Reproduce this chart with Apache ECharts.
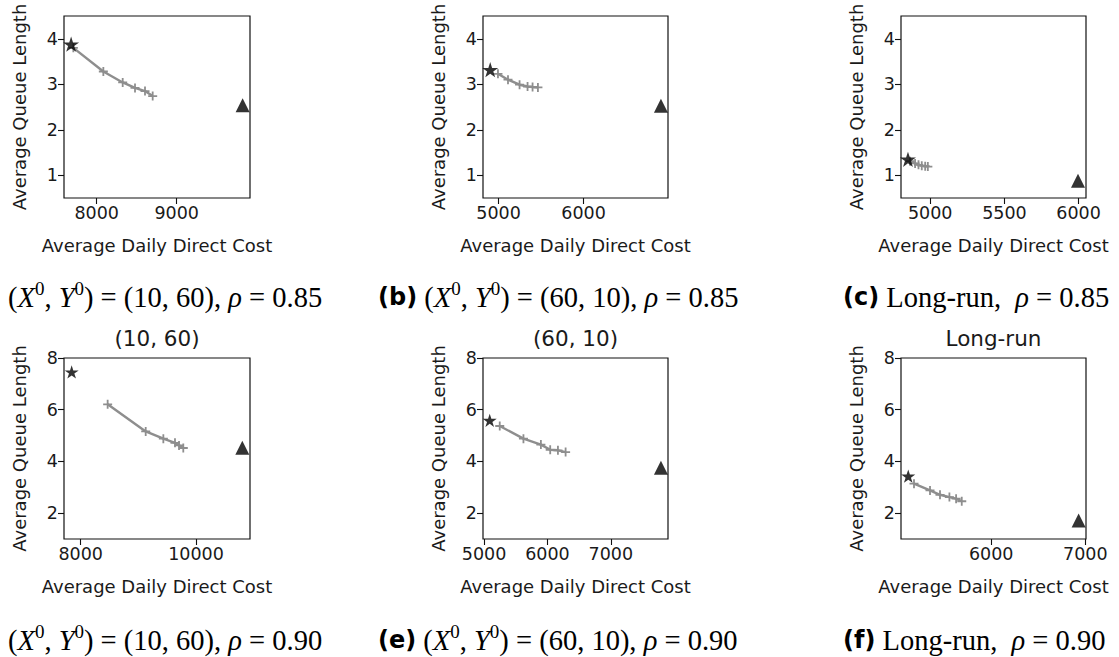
<!DOCTYPE html>
<html><head><meta charset="utf-8">
<script src="https://cdn.jsdelivr.net/npm/echarts@6/dist/echarts.min.js"></script>
<style>html,body{margin:0;padding:0;background:#fff}#c{width:1119px;height:657px}</style>
</head><body><div id="c"></div>
<script>
// ---------------- data ----------------
const xAxisTitle = 'Average Daily Direct Cost';
const yAxisTitle = 'Average Queue Length';
const panelTitles = ['', '', '', '(10, 60)', '(60, 10)', 'Long-run'];

// (a) (10,60), rho=0.85
const pathCostA = [7708, 8083, 8325, 8479, 8604, 8700];
const pathQueueA = [3.80, 3.28, 3.04, 2.92, 2.85, 2.74];
const starA = [7680, 3.88];
const triangleA = [9825, 2.54];
// (b) (60,10), rho=0.85
const pathCostB = [4993, 5111, 5247, 5341, 5400, 5463];
const pathQueueB = [3.23, 3.10, 2.99, 2.95, 2.94, 2.93];
const starB = [4902, 3.32];
const triangleB = [6910, 2.53];
// (c) Long-run, rho=0.85
const pathCostC = [4864, 4898, 4921, 4943, 4966, 4984];
const pathQueueC = [1.31, 1.26, 1.23, 1.21, 1.20, 1.19];
const starC = [4850, 1.35];
const triangleC = [5996, 0.88];
// (d) (10,60), rho=0.90
const pathCostD = [8468, 9128, 9434, 9636, 9706, 9780];
const pathQueueD = [6.21, 5.16, 4.88, 4.72, 4.62, 4.52];
const starD = [7844, 7.46];
const triangleD = [10804, 4.53];
// (e) (60,10), rho=0.90
const pathCostE = [5248, 5622, 5897, 6044, 6166, 6287];
const pathQueueE = [5.37, 4.88, 4.65, 4.45, 4.43, 4.36];
const starE = [5090, 5.59];
const triangleE = [7791, 3.76];
// (f) Long-run, rho=0.90
const pathCostF = [5181, 5351, 5457, 5557, 5628, 5688];
const pathQueueF = [3.14, 2.88, 2.71, 2.62, 2.56, 2.46];
const starF = [5120, 3.43];
const triangleF = [6929, 1.72];

// tick labels
const xTicksA = [8000, 9000];
const xTicksB = [5000, 6000];
const xTicksC = [5000, 5500, 6000];
const xTicksD = [8000, 10000];
const xTicksE = [5000, 6000, 7000];
const xTicksF = [6000, 7000];
const yTicksTop = [1, 2, 3, 4];
const yTicksBottom = [2, 4, 6, 8];

// captions
const captionLabels = ['', '(b)', '(c)', '', '(e)', '(f)'];
const captionPairs = ['(10, 60)', '(60, 10)', null];
const rhoValues = ['0.85', '0.90'];

// ---------------- layout ----------------
const colLeft = [64, 483, 901];
const colWidth = [186, 185, 185];
const rowTop = [16, 358];
const rowHeight = [182, 181];
const xRanges = [[7591, 9917], [4817, 6993], [4803, 6050], [7711, 10937], [4984, 7902], [5043, 7007]];
const yRanges = [[0.5, 4.5], [1, 8]];
const captionX = [8, 378, 843];
const captionY = [297, 640];

const paths = [[pathCostA, pathQueueA], [pathCostB, pathQueueB], [pathCostC, pathQueueC],
               [pathCostD, pathQueueD], [pathCostE, pathQueueE], [pathCostF, pathQueueF]];
const stars = [starA, starB, starC, starD, starE, starF];
const triangles = [triangleA, triangleB, triangleC, triangleD, triangleE, triangleF];
const xTicks = [xTicksA, xTicksB, xTicksC, xTicksD, xTicksE, xTicksF];
const yTicks = [yTicksTop, yTicksBottom];

const plusPath = 'path://M4,0H6V4H10V6H6V10H4V6H0V4H4Z';
const starPath = 'path://M100,0L122.45,69.1L195.11,69.1L136.33,111.8L158.78,180.9L100,138.2L41.22,180.9L63.67,111.8L4.89,69.1L77.55,69.1Z';

const TXT = '#1a1a1a';
const SANS = 'DejaVu Sans';
const grids = [], xAxes = [], yAxes = [], series = [], graphics = [];

for (let i = 0; i < 6; i++) {
  const row = Math.floor(i / 3), col = i % 3;
  grids.push({left: colLeft[col], top: rowTop[row], width: colWidth[col], height: rowHeight[row],
    show: true, borderColor: '#111', borderWidth: 1.2, backgroundColor: '#fff', containLabel: false});
  xAxes.push({type: 'value', gridIndex: i, min: xRanges[i][0], max: xRanges[i][1],
    axisLine: {show: false}, splitLine: {show: false},
    axisTick: {show: true, length: 6, lineStyle: {color: '#111', width: 1.1}, customValues: xTicks[i]},
    axisLabel: {customValues: xTicks[i], fontSize: 17.5, fontFamily: SANS, color: TXT, margin: 6,
      formatter: v => String(v)},
    name: xAxisTitle, nameLocation: 'middle', nameGap: 38.5,
    nameTextStyle: {fontSize: 18, fontFamily: SANS, color: TXT}});
  yAxes.push({type: 'value', gridIndex: i, min: yRanges[row][0], max: yRanges[row][1],
    axisLine: {show: false}, splitLine: {show: false},
    axisTick: {show: true, length: 6, lineStyle: {color: '#111', width: 1.1}, customValues: yTicks[row]},
    axisLabel: {customValues: yTicks[row], fontSize: 17.5, fontFamily: SANS, color: TXT, margin: 6,
      formatter: v => String(v)},
    name: yAxisTitle, nameLocation: 'middle', nameGap: 36,
    nameTextStyle: {fontSize: 18, fontFamily: SANS, color: TXT}});
  const [cost, queue] = paths[i];
  series.push({type: 'line', xAxisIndex: i, yAxisIndex: i, data: cost.map((c, k) => [c, queue[k]]),
    symbol: plusPath, symbolSize: 9, showSymbol: true, clip: false,
    lineStyle: {color: '#8e8e8e', width: 2.4}, itemStyle: {color: '#8e8e8e'}, z: 2});
  series.push({type: 'scatter', xAxisIndex: i, yAxisIndex: i, data: [stars[i]],
    symbol: starPath, symbolKeepAspect: true, symbolSize: row === 0 ? 16 : 14, clip: false,
    itemStyle: {color: '#000'}, z: 3});
  series.push({type: 'scatter', xAxisIndex: i, yAxisIndex: i, data: [triangles[i]],
    symbol: 'triangle', symbolSize: 14, clip: false, itemStyle: {color: '#000'}, z: 3});
  if (panelTitles[i]) {
    graphics.push({type: 'text', z: 10, style: {text: panelTitles[i],
      x: colLeft[col] + colWidth[col] / 2, y: rowTop[row] - 20, align: 'center', verticalAlign: 'middle',
      fontSize: 21.5, fontFamily: SANS, fill: TXT}});
  }
  // caption
  let t = '';
  if (captionLabels[i]) t += '{b|' + captionLabels[i] + '}{r| }';
  if (captionPairs[col]) {
    t += '{r|(}{i|X}{s|0}{r|, }{i|Y}{s|0}{r|) = ' + captionPairs[col] + ', }{i|ρ}{r| = ' + rhoValues[row] + '}';
  } else {
    t += '{r|Long-run,  }{i|ρ}{r| = ' + rhoValues[row] + '}';
  }
  graphics.push({type: 'text', z: 10, style: {text: t, x: captionX[col], y: captionY[row],
    align: 'left', verticalAlign: 'middle',
    rich: {
      r: {fontFamily: 'Liberation Serif', fontSize: 28.5, lineHeight: 36, fill: '#000'},
      i: {fontFamily: 'Liberation Serif', fontStyle: 'italic', fontSize: 28.5, lineHeight: 36, fill: '#000'},
      s: {fontFamily: 'Liberation Serif', fontSize: 19, lineHeight: 20, verticalAlign: 'top', fill: '#000'},
      b: {fontFamily: SANS, fontWeight: 'bold', fontSize: 24, lineHeight: 36, fill: '#000'}
    }}});
}

const chart = echarts.init(document.getElementById('c'), null, {renderer: 'svg', width: 1119, height: 657});
chart.setOption({animation: false, backgroundColor: '#fff',
  grid: grids, xAxis: xAxes, yAxis: yAxes, series: series, graphic: graphics});
</script></body></html>
